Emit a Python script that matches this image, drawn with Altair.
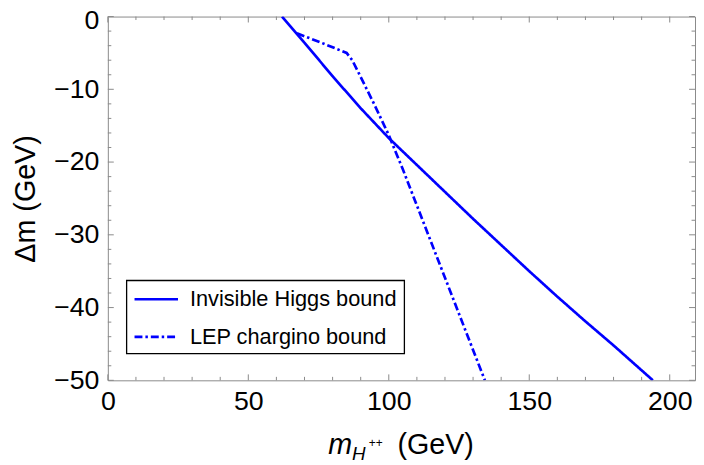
import altair as alt
import pandas as pd

# ---------------- data ----------------
series_names = ["Invisible Higgs bound", "LEP chargino bound"]

higgs_m = [62.0, 70, 80, 90, 100, 110, 120, 130, 140, 150, 160, 170, 180, 194]
higgs_dm = [0.0, -3.6, -8.2, -12.6, -16.7, -20.4, -24.1, -27.8, -31.4, -35.0, -38.5, -41.9, -45.2, -50.0]

lep_m = [67.3, 76, 85, 87, 90, 95, 100, 105, 134.2]
lep_dm = [-2.3, -3.6, -5.0, -6.0, -8.3, -12.2, -16.3, -21.0, -50.0]

x_major = [0, 50, 100, 150, 200]
x_minor = [10, 20, 30, 40, 60, 70, 80, 90, 110, 120, 130, 140, 160, 170, 180, 190]
y_major = [0, -10, -20, -30, -40, -50]
y_minor = [-2, -4, -6, -8, -12, -14, -16, -18, -22, -24, -26, -28,
           -32, -34, -36, -38, -42, -44, -46, -48]

# ---------------- styling ----------------
FONT = "Liberation Sans"
FRAME = "#8a8a8a"
BLUE = "#0000ff"
W, H = 594, 368
MAJ, MIN = 6, 3.5
DASHES = [[1, 0], [8, 3, 2.5, 3]]
LW = 2.7

df = pd.concat([
    pd.DataFrame({"m": higgs_m, "dm": higgs_dm, "series": series_names[0]}),
    pd.DataFrame({"m": lep_m, "dm": lep_dm, "series": series_names[1]}),
])

xscale = alt.Scale(domain=[0, 209], nice=False, zero=False)
yscale = alt.Scale(domain=[-50, 0], nice=False, zero=False)

x_axis = alt.Axis(values=x_major, labelPadding=9, format="d", labelFlush=False)
y_axis = alt.Axis(values=y_major, labelPadding=9, format="d", labelFlush=False,
                  labelOffset={"condition": {"test": "datum.value == 0", "value": 4}, "value": 0},
                  titleX=-74, titleY=H / 2, titleAngle=-90, titleBaseline="alphabetic",
                  titleAlign="center")

X = alt.X("m:Q", scale=xscale, axis=x_axis, title=None)
Y = alt.Y("dm:Q", scale=yscale, axis=y_axis, title="Δm (GeV)")

lines = alt.Chart(df).mark_line(strokeWidth=LW, clip=True, color=BLUE).encode(
    x=X,
    y=Y,
    strokeDash=alt.StrokeDash("series:N",
                              scale=alt.Scale(domain=series_names, range=DASHES),
                              legend=None),
)


def xticks(vals, length, bottom):
    d = pd.DataFrame({"m": vals})
    if bottom:
        enc = dict(y=alt.value(H), y2=alt.value(H - length))
    else:
        enc = dict(y=alt.value(0), y2=alt.value(length))
    return alt.Chart(d).mark_rule(color=FRAME, strokeWidth=1).encode(x=X, **enc)


def yticks(vals, length, left):
    d = pd.DataFrame({"dm": vals})
    if left:
        enc = dict(x=alt.value(0), x2=alt.value(length))
    else:
        enc = dict(x=alt.value(W), x2=alt.value(W - length))
    return alt.Chart(d).mark_rule(color=FRAME, strokeWidth=1).encode(y=Y, **enc)


ticks = [
    xticks(x_major, MAJ, True), xticks(x_minor, MIN, True),
    xticks(x_major, MAJ, False), xticks(x_minor, MIN, False),
    yticks(y_major, MAJ, True), yticks(y_minor, MIN, True),
    yticks(y_major, MAJ, False), yticks(y_minor, MIN, False),
]

one = pd.DataFrame({"k": [0]})


def piece(txt, x, y, size, style="normal", baseline="alphabetic"):
    return alt.Chart(one).mark_text(text=txt, font=FONT, fontSize=size, fontStyle=style,
                                    align="left", baseline=baseline, color="black").encode(
        x=alt.value(x), y=alt.value(y))


# x-axis title composed from pieces: m_{H^{++}} (GeV)
title_parts = [
    piece("m", 223, 443, 29, "italic"),
    piece("H", 247, 449, 19, "italic"),
    piece("++", 264, 431, 12, "normal", "middle"),
    piece("(GeV)", 293, 443, 29),
]

# legend box (framed, inside the plot)
LX0, LX1, LY0, LY1 = 19, 300, 267, 341
ROWS = [286, 324]
legend_box = alt.Chart(one).mark_rect(fill="white", stroke="black", strokeWidth=1.3).encode(
    x=alt.value(LX0), x2=alt.value(LX1), y=alt.value(LY0), y2=alt.value(LY1))
legend_parts = [legend_box]
for name, dash, ry in zip(series_names, DASHES, ROWS):
    legend_parts.append(
        alt.Chart(one).mark_rule(color=BLUE, strokeWidth=LW, strokeDash=dash).encode(
            x=alt.value(27), x2=alt.value(71), y=alt.value(ry)))
    legend_parts.append(
        alt.Chart(pd.DataFrame({"t": [name]})).mark_text(
            font=FONT, fontSize=22, align="left", baseline="middle", color="black").encode(
            text="t:N", x=alt.value(83), y=alt.value(ry)))

chart = alt.layer(lines, *ticks, *title_parts, *legend_parts).properties(
    width=W, height=H,
    padding={"left": 101, "top": 6, "right": 1, "bottom": 83},
    autosize=alt.AutoSizeParams(type="none"),
).configure_view(
    stroke=FRAME, strokeWidth=1
).configure_axis(
    domain=False, ticks=False, grid=False,
    labelFont=FONT, labelFontSize=27, labelColor="black",
    titleFont=FONT, titleFontSize=29, titleFontWeight="normal", titleColor="black",
)

chart.save("out.html", embed_options={"renderer": "svg", "actions": False})
